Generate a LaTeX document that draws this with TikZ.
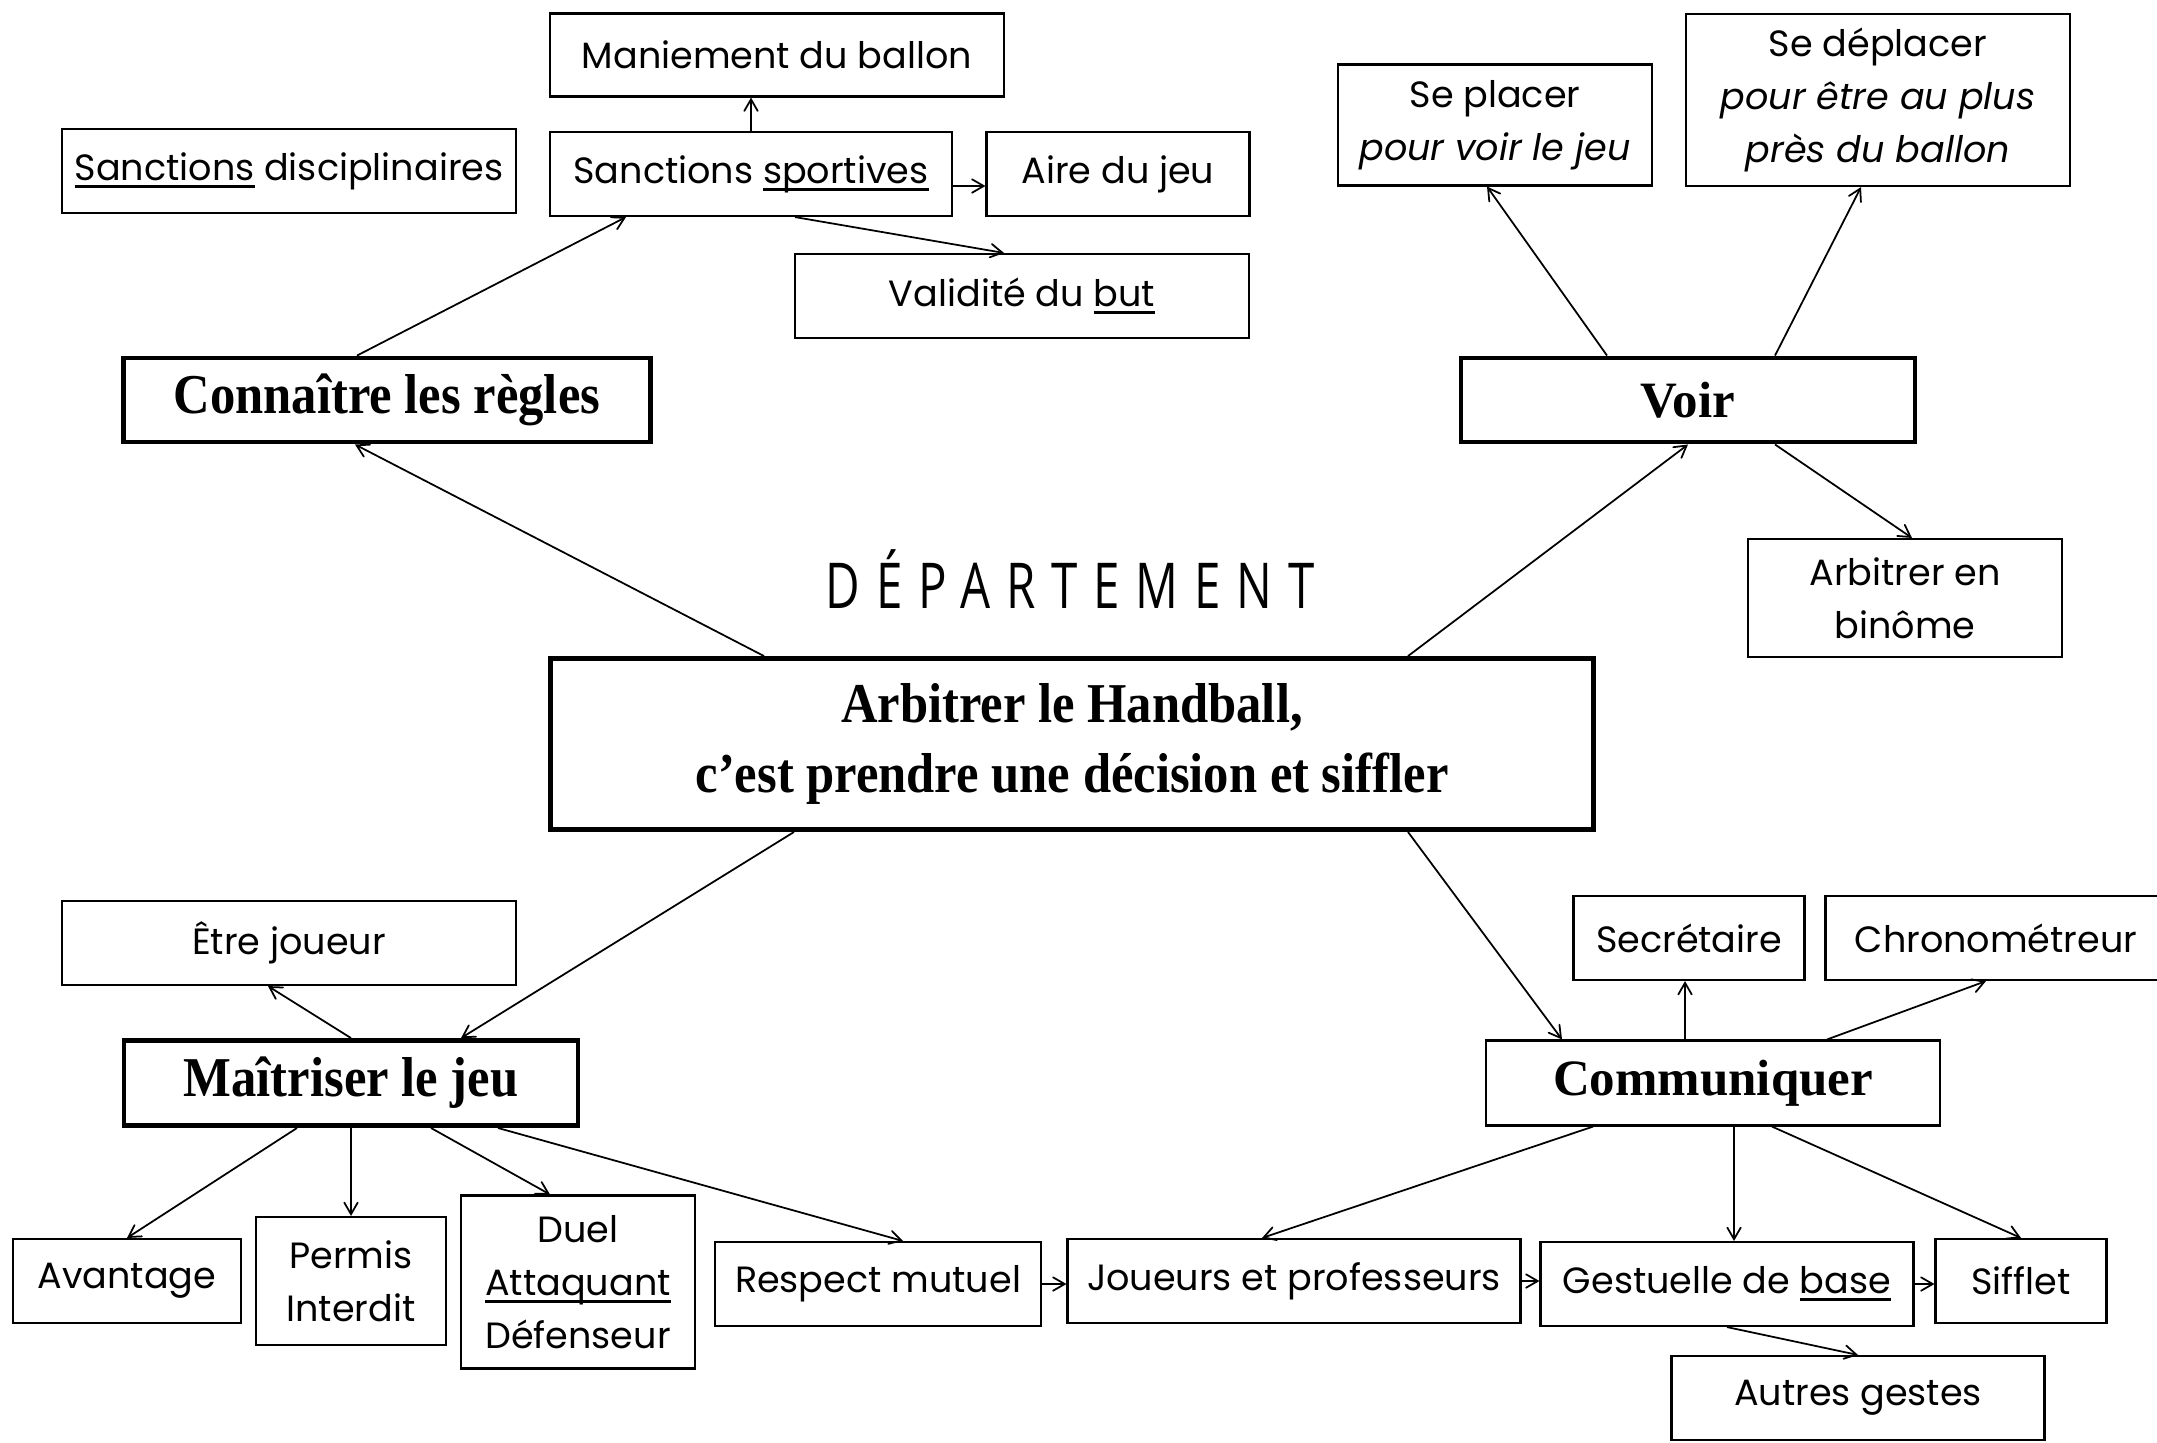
\documentclass[tikz,border=0pt]{standalone}
\usepackage{fontspec}
\usepackage{tikz}
\usetikzlibrary{shapes.geometric, arrows}
\newfontfamily\leaffont{Poppins}
\newfontfamily\garafont[FakeStretch=0.9]{Liberation Serif}
\newfontfamily\timesfont{Liberation Serif}
\newfontfamily\deptfont[FakeStretch=0.75,LetterSpace=25]{Open Sans}
\newcommand\undl[1]{\setbox0\hbox{#1}\rlap{\rule[-2.2pt]{\wd0}{0.9pt}}\box0\relax}
\tikzstyle{leaf} = [
	rectangle,
	draw=black,
	line width=0.6pt,
	inner sep=0pt,
	text centered,
	align=center,
	font=\fontsize{10.4}{15}\selectfont\leaffont
]
\tikzstyle{branch} = [
	rectangle,
	draw=black,
	line width=1.4pt,
	inner sep=0pt,
	text centered,
	align=center,
	font=\fontsize{16}{20}\selectfont\garafont\bfseries
]
\tikzstyle{verb} = [
	rectangle,
	draw=black,
	inner sep=0pt,
	text centered,
	font=\fontsize{14.5}{18}\selectfont\timesfont\bfseries
]
\tikzstyle{arrow} = [->, >=angle 60, line width=0.5pt]

\begin{document}
\begin{tikzpicture}
	\useasboundingbox (0,0) rectangle (21.57,-14.42);
	% rules
	\node (mani) [leaf, minimum width=4.54cm, minimum height=0.83cm] at (7.77,-0.55) {Maniement du ballon};
	\node (sdisc) [leaf, minimum width=4.54cm, minimum height=0.84cm] at (2.89,-1.71) {\undl{Sanctions} disciplinaires};
	\node (sport) [leaf, minimum width=4.02cm, minimum height=0.84cm] at (7.51,-1.74) {Sanctions \undl{sportives}};
	\node (aire) [leaf, minimum width=2.63cm, minimum height=0.84cm] at (11.18,-1.74) {Aire du jeu};
	\node (valid) [leaf, minimum width=4.54cm, minimum height=0.84cm] at (10.22,-2.96) {Validité du \undl{but}};
	\node (regles) [branch, minimum width=5.27cm, minimum height=0.84cm] at (3.87,-4.00) {Connaître les règles};
	% see
	\node (voir) [verb, line width=1.4pt, minimum width=4.54cm, minimum height=0.84cm] at (16.88,-4.00) {Voir};
	\node (placer) [leaf, minimum width=3.14cm, minimum height=1.21cm] at (14.95,-1.25) {Se placer\\\textit{pour voir le jeu}};
	\node (deplacer) [leaf, minimum width=3.84cm, minimum height=1.72cm] at (18.78,-1.00) {Se déplacer\\\textit{pour être au plus}\\\textit{près du ballon}};
	\node (binome) [leaf, minimum width=3.14cm, minimum height=1.18cm] at (19.05,-5.98) {Arbitrer en\\binôme};
	% centre
	\node (dept) at (10.70,-5.79) {\fontsize{18}{20}\selectfont\deptfont DÉPARTEMENT};
	\node (arbitrer) [branch, minimum width=10.43cm, minimum height=1.71cm] at (10.72,-7.44) {Arbitrer le Handball,\\c’est prendre une décision et siffler};
	% game
	\node (joueur) [leaf, minimum width=4.54cm, minimum height=0.84cm] at (2.89,-9.43) {Être joueur};
	\node (maitriser) [branch, minimum width=4.54cm, minimum height=0.85cm] at (3.51,-10.83) {Maîtriser le jeu};
	\node (avantage) [leaf, minimum width=2.28cm, minimum height=0.84cm] at (1.27,-12.81) {Avantage};
	\node (permis) [leaf, minimum width=1.90cm, minimum height=1.28cm] at (3.51,-12.81) {Permis\\Interdit};
	\node (duel) [leaf, minimum width=2.34cm, minimum height=1.73cm] at (5.78,-12.82) {Duel\\\undl{Attaquant}\\Défenseur};
	\node (respect) [leaf, minimum width=3.26cm, minimum height=0.84cm] at (8.78,-12.84) {Respect mutuel};
	% talk
	\node (comm) [verb, line width=0.6pt, minimum width=4.54cm, minimum height=0.85cm] at (17.13,-10.83) {Communiquer};
	\node (secr) [leaf, minimum width=2.31cm, minimum height=0.84cm] at (16.89,-9.38) {Secrétaire};
	\node (chrono) [leaf, minimum width=3.41cm, minimum height=0.84cm] at (19.96,-9.38) {Chronométreur};
	\node (jp) [leaf, minimum width=4.53cm, minimum height=0.84cm] at (12.94,-12.81) {Joueurs et professeurs};
	\node (gest) [leaf, minimum width=3.73cm, minimum height=0.84cm] at (17.27,-12.84) {Gestuelle de \undl{base}};
	\node (sifflet) [leaf, minimum width=1.71cm, minimum height=0.84cm] at (20.21,-12.81) {Sifflet};
	\node (autres) [leaf, minimum width=3.73cm, minimum height=0.84cm] at (18.58,-13.98) {Autres gestes};

	\draw [arrow] ([xshift=-0.30cm]regles.north) -- ([xshift=-1.25cm]sport.south);
	\draw [arrow] (sport.north) -- (sport.north |- mani.south);
	\draw [arrow] ([yshift=-0.12cm]sport.east) -- ([yshift=-0.12cm]aire.west);
	\draw [arrow] ([xshift=0.44cm]sport.south) -- ([xshift=-0.18cm]valid.north);
	\draw [arrow] ([xshift=-3.08cm]arbitrer.north) -- ([xshift=-0.32cm]regles.south);
	\draw [arrow] ([xshift=3.36cm]arbitrer.north) -- (voir.south);
	\draw [arrow] ([xshift=-0.81cm]voir.north) -- ([xshift=-0.08cm]placer.south);
	\draw [arrow] ([xshift=0.87cm]voir.north) -- ([xshift=-0.17cm]deplacer.south);
	\draw [arrow] ([xshift=0.87cm]voir.south) -- ([xshift=0.07cm]binome.north);
	\draw [arrow] ([xshift=-2.78cm]arbitrer.south) -- ([xshift=1.10cm]maitriser.north);
	\draw [arrow] ([xshift=3.36cm]arbitrer.south) -- ([xshift=-1.51cm]comm.north);
	\draw [arrow] (maitriser.north) -- ([xshift=-0.21cm]joueur.south);
	\draw [arrow] ([xshift=-0.54cm]maitriser.south) -- (avantage.north);
	\draw [arrow] (maitriser.south) -- (permis.north);
	\draw [arrow] ([xshift=0.80cm]maitriser.south) -- ([xshift=-0.28cm]duel.north);
	\draw [arrow] ([xshift=1.47cm]maitriser.south) -- ([xshift=0.25cm]respect.north);
	\draw [arrow] (respect.east) -- (respect.east -| jp.west);
	\draw [arrow] (jp.east) -- (jp.east -| gest.west);
	\draw [arrow] (gest.east) -- (gest.east -| sifflet.west);
	\draw [arrow] ([xshift=-0.28cm]comm.north) -- ([xshift=-0.28cm]comm.north |- secr.south);
	\draw [arrow] ([xshift=1.14cm]comm.north) -- ([xshift=-0.10cm]chrono.south);
	\draw [arrow] ([xshift=-1.20cm]comm.south) -- ([xshift=-0.32cm]jp.north);
	\draw [arrow] ([xshift=0.21cm]comm.south) -- ([xshift=0.21cm]comm.south |- gest.north);
	\draw [arrow] ([xshift=0.59cm]comm.south) -- (sifflet.north);
	\draw [arrow] (gest.south) -- (autres.north);
\end{tikzpicture}
\end{document}
